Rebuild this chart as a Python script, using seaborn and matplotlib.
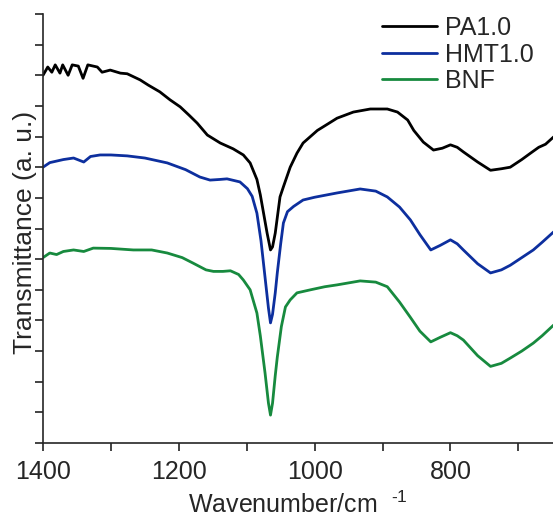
import matplotlib
matplotlib.use("Agg")
import matplotlib.pyplot as plt
from matplotlib.ticker import MultipleLocator
import pandas as pd
import seaborn as sns

# FTIR spectra (y in arbitrary, offset units)
pa_wn = [1400, 1393, 1387, 1382, 1375, 1371, 1363, 1357, 1348, 1341, 1334, 1320, 1313,
         1301, 1286, 1276, 1257, 1245, 1228, 1213, 1198, 1185, 1173, 1158, 1139, 1120,
         1105, 1095, 1085, 1080, 1076, 1070, 1065, 1062, 1058, 1051, 1046, 1036, 1026,
         1017, 996, 980, 967, 943, 918, 893, 878, 863, 854, 840, 825, 812, 800, 790,
         781, 760, 741, 725, 712, 695, 682, 670, 660, 648]
pa_val = [12.0, 12.27, 12.1, 12.34, 12.07, 12.34, 12.0, 12.34, 12.3, 11.9, 12.34, 12.27, 12.1,
          12.17, 12.07, 12.05, 11.85, 11.68, 11.46, 11.2, 10.97, 10.7, 10.44, 10.05, 9.79, 9.6,
          9.4, 9.14, 8.6, 8.1, 7.6, 6.85, 6.3, 6.4, 6.85, 8.03, 8.36, 9.0, 9.46,
          9.79, 10.2, 10.42, 10.6, 10.8, 10.9, 10.9, 10.8, 10.54, 10.2, 9.82, 9.56, 9.62, 9.73, 9.65,
          9.5, 9.17, 8.9, 8.95, 9.0, 9.25, 9.46, 9.65, 9.75, 9.99]

hmt_wn = [1400, 1390, 1380, 1370, 1355, 1340, 1330, 1316, 1300, 1276, 1250, 1217, 1190,
          1169, 1154, 1140, 1129, 1110, 1099, 1092, 1085, 1079, 1073, 1068, 1065, 1062,
          1058, 1055, 1050, 1046, 1040, 1031, 1017, 1000, 967, 933, 910, 893, 875, 859,
          845, 829, 815, 800, 790, 781, 760, 741, 725, 712, 695, 678, 665, 648]
hmt_val = [9.0, 9.15, 9.2, 9.25, 9.3, 9.17, 9.35, 9.4, 9.4, 9.37, 9.3, 9.14, 8.92,
           8.68, 8.58, 8.6, 8.62, 8.52, 8.3, 8.05, 7.5, 6.6, 5.4, 4.4, 3.92, 4.2,
           4.9, 5.55, 6.5, 7.18, 7.55, 7.72, 7.93, 8.02, 8.16, 8.29, 8.22, 8.03, 7.7, 7.28,
           6.8, 6.3, 6.45, 6.63, 6.5, 6.3, 5.85, 5.55, 5.65, 5.8, 6.05, 6.3, 6.55, 6.89]

bnf_wn = [1400, 1390, 1380, 1370, 1355, 1340, 1326, 1300, 1267, 1240, 1217, 1195, 1179,
          1160, 1149, 1135, 1124, 1112, 1105, 1095, 1085, 1080, 1073, 1068, 1065, 1062,
          1058, 1055, 1049, 1043, 1036, 1026, 1006, 985, 967, 933, 910, 893, 875, 859,
          845, 829, 815, 800, 790, 781, 760, 741, 725, 712, 695, 678, 665, 648]
bnf_val = [6.05, 6.2, 6.15, 6.25, 6.3, 6.25, 6.36, 6.35, 6.3, 6.3, 6.2, 6.05, 5.87,
           5.65, 5.6, 5.6, 5.62, 5.5, 5.32, 5.0, 4.24, 3.5, 2.28, 1.3, 0.91, 1.3,
           2.2, 2.8, 3.8, 4.44, 4.67, 4.9, 5.0, 5.1, 5.16, 5.29, 5.25, 5.1, 4.6, 4.1,
           3.65, 3.3, 3.45, 3.6, 3.5, 3.36, 2.85, 2.5, 2.6, 2.77, 3.0, 3.26, 3.5, 3.85]

labels = ["PA1.0", "HMT1.0", "BNF"]
colors = ["#000000", "#0d2f9e", "#178a3e"]

df = pd.concat([
    pd.DataFrame({"wn": pa_wn, "T": pa_val, "sample": labels[0]}),
    pd.DataFrame({"wn": hmt_wn, "T": hmt_val, "sample": labels[1]}),
    pd.DataFrame({"wn": bnf_wn, "T": bnf_val, "sample": labels[2]}),
])

sns.set_style("ticks")
plt.rcParams["font.family"] = ["Liberation Sans", "DejaVu Sans"]
plt.rcParams["mathtext.fontset"] = "custom"
plt.rcParams["mathtext.rm"] = "Liberation Sans"

fig = plt.figure(figsize=(5.53, 5.2), dpi=100)
ax = fig.add_axes([43 / 553, 77 / 520, 510 / 553, 429 / 520])

sns.lineplot(data=df, x="wn", y="T", hue="sample", palette=colors,
             sort=False, estimator=None, linewidth=2.0, ax=ax)

ax.set_xlim(1400, 649)
ax.set_ylim(0, 14)
ax.xaxis.set_major_locator(MultipleLocator(200))
ax.xaxis.set_minor_locator(MultipleLocator(100))
ax.yaxis.set_major_locator(MultipleLocator(1))
ax.set_yticklabels([])
ax.tick_params(axis="both", which="both", direction="out", length=6, width=1.2,
               labelsize=18, pad=6, color="#222222")
for s in ["left", "bottom"]:
    ax.spines[s].set_linewidth(1.2)
sns.despine(ax=ax)

ax.set_xlabel(r"Wavenumber/cm  $^{\text{-1}}$", fontsize=18, labelpad=6)
ax.set_ylabel("Transmittance (a. u.)", fontsize=19)
ax.yaxis.set_label_coords(-0.012, 0.49)

ax.legend(title=None, frameon=False, fontsize=18, loc="upper left",
          bbox_to_anchor=(0.665, 0.995), borderpad=0, borderaxespad=0,
          handlelength=2.2, handletextpad=0.3, labelspacing=0.1)

fig.savefig("out.png", dpi=100)
